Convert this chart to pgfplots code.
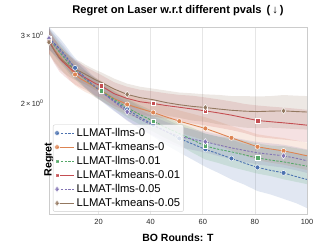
\documentclass[border=0pt]{standalone}
\usepackage{pgfplots}
\pgfplotsset{compat=1.18}
\usepackage{pgfplotstable}
\usepgfplotslibrary{fillbetween}
\usepackage{fontspec}
\setmainfont{Liberation Sans}
\definecolor{cb}{HTML}{4C72B0}
\definecolor{co}{HTML}{DD8452}
\definecolor{cg}{HTML}{55A868}
\definecolor{cr}{HTML}{C44E52}
\definecolor{cp}{HTML}{8172B3}
\definecolor{ck}{HTML}{937860}
\definecolor{gridc}{HTML}{E6E6E6}
\definecolor{framec}{HTML}{CCCCCC}

\pgfplotstableread{
x   b     be   o     oe   g     ge   r     re   p     pe   k     ke
1   2.96  0.20 2.90  0.20 2.95  0.18 2.92  0.22 2.95  0.18 2.885 0.20
3   2.87  0.19 2.76  0.19 2.83  0.17 2.75  0.21 2.85  0.17 2.75  0.19
5   2.78  0.18 2.66  0.18 2.72  0.16 2.62  0.20 2.75  0.16 2.63  0.18
7   2.68  0.17 2.56  0.17 2.62  0.15 2.54  0.19 2.65  0.15 2.56  0.17
9   2.57  0.16 2.46  0.16 2.52  0.14 2.47  0.18 2.55  0.14 2.50  0.16
11  2.475 0.15 2.378 0.15 2.44  0.13 2.41  0.17 2.46  0.13 2.45  0.15
13  2.40  0.14 2.32  0.14 2.37  0.13 2.37  0.17 2.39  0.12 2.42  0.15
15  2.33  0.14 2.28  0.14 2.31  0.12 2.33  0.16 2.32  0.12 2.38  0.14
17  2.26  0.13 2.24  0.13 2.25  0.12 2.29  0.16 2.26  0.11 2.34  0.14
19  2.20  0.13 2.20  0.13 2.20  0.12 2.25  0.16 2.20  0.11 2.30  0.14
21  2.15  0.12 2.16  0.13 2.157 0.12 2.222 0.15 2.145 0.11 2.27  0.14
26  2.03  0.12 2.06  0.12 2.05  0.11 2.12  0.15 2.02  0.10 2.18  0.14
31  1.93  0.12 1.988 0.12 1.95  0.11 2.06  0.15 1.902 0.10 2.111 0.14
36  1.84  0.12 1.94  0.12 1.87  0.11 2.02  0.15 1.82  0.10 2.07  0.14
41  1.76  0.12 1.895 0.12 1.799 0.11 2.00  0.15 1.75  0.10 2.045 0.14
46  1.69  0.13 1.845 0.12 1.73  0.11 1.975 0.15 1.69  0.10 2.01  0.15
51  1.622 0.13 1.799 0.12 1.67  0.11 1.955 0.15 1.64  0.10 1.985 0.15
56  1.57  0.14 1.76  0.12 1.61  0.12 1.935 0.16 1.615 0.10 1.965 0.16
61  1.519 0.15 1.722 0.12 1.55  0.12 1.913 0.16 1.59  0.10 1.952 0.16
66  1.48  0.16 1.675 0.12 1.52  0.12 1.89  0.16 1.56  0.10 1.935 0.17
71  1.439 0.17 1.628 0.12 1.497 0.13 1.865 0.16 1.533 0.10 1.92  0.17
76  1.40  0.17 1.585 0.12 1.47  0.13 1.835 0.16 1.51  0.10 1.91  0.18
81  1.364 0.18 1.543 0.12 1.444 0.13 1.806 0.17 1.488 0.10 1.905 0.18
86  1.34  0.18 1.523 0.12 1.425 0.13 1.793 0.17 1.475 0.10 1.91  0.18
91  1.320 0.19 1.506 0.12 1.41  0.14 1.781 0.17 1.462 0.10 1.913 0.19
96  1.29  0.19 1.482 0.12 1.39  0.14 1.768 0.17 1.44  0.10 1.905 0.19
100 1.269 0.20 1.462 0.12 1.374 0.14 1.756 0.17 1.419 0.10 1.90  0.19
}\data

\newcommand{\band}[3]{%
  \addplot[draw=none, name path=#1U, forget plot] table[x=x, y expr=\thisrow{#1}+\thisrow{#2}] {\data};
  \addplot[draw=none, name path=#1L, forget plot] table[x=x, y expr=\thisrow{#1}-\thisrow{#2}] {\data};
  \addplot[fill=#3, fill opacity=0.17, draw=none, forget plot] fill between[of=#1U and #1L];
}

\begin{document}
\begin{tikzpicture}
\begin{axis}[
  at={(0,0)}, anchor=south west,
  scale only axis, width=258bp, height=187bp,
  xmin=1, xmax=100,
  ymode=log, ymin=1.032, ymax=3.16,
  xtick={20,40,60,80,100},
  ytick={2,3},
  yticklabels={2\,×\,10\textsuperscript{0}, 3\,×\,10\textsuperscript{0}},
  minor ytick={},
  /pgf/number format/assume math mode=true,
  tick style={draw=none},
  major tick length=0pt, minor tick length=0pt,
  ticklabel style={font=\fontsize{7.5}{9}\selectfont, text=black!85},
  xticklabel style={yshift=-2bp},
  yticklabel style={xshift=-2bp},
  xmajorgrids=true, ymajorgrids=false,
  major grid style={draw=gridc, line width=0.6pt},
  axis line style={draw=framec, line width=0.8pt},
  title={\textbf{Regret on Laser w.r.t different pvals\hspace{5bp}(\hspace{2bp}↓\hspace{2bp})}},
  title style={font=\fontsize{11.2}{13}\selectfont, at={(axis description cs:0.5,1)}, anchor=center, yshift=10bp},
  xlabel={\textbf{BO Rounds: T}},
  xlabel style={font=\fontsize{10.5}{12}\selectfont, at={(axis description cs:0.5,0)}, anchor=center, yshift=-23.5bp},
  ylabel={\textbf{Regret}},
  ylabel style={font=\fontsize{10.7}{12}\selectfont, at={(axis description cs:0,0.5)}, anchor=center, xshift=-39bp},
  legend style={at={(0.015,0.012)}, anchor=south west, font=\fontsize{11.3}{13}\selectfont,
    draw=framec, rounded corners=2pt, fill=white, fill opacity=0.8, text opacity=1,
    inner xsep=1.5pt, inner ysep=1.5pt, row sep=0.4pt},
  legend cell align=left,
  every axis plot/.append style={line width=0.9pt},
]
\band{b}{be}{cb}
\band{o}{oe}{co}
\band{g}{ge}{cg}
\band{r}{re}{cr}
\band{p}{pe}{cp}
\band{k}{ke}{ck}

\addplot[cb, dash pattern=on 2.4pt off 1.4pt, mark=*, mark size=2.5pt,
  mark options={solid, draw=white, line width=0.5pt, fill=cb},
  mark indices={1,6,11,13,15,17,19,21,23,25}] table[x=x, y=b] {\data};
\addlegendentry{LLMAT-llms-0}
\addplot[co, solid, mark=*, mark size=2.5pt,
  mark options={solid, draw=white, line width=0.5pt, fill=co},
  mark indices={1,6,11,13,15,17,19,21,23,25}] table[x=x, y=o] {\data};
\addlegendentry{LLMAT-kmeans-0}
\addplot[cg, dash pattern=on 2.4pt off 1.4pt, mark=square*, mark size=2.3pt,
  mark options={solid, draw=white, line width=0.5pt, fill=cg},
  mark indices={1,11,15,19,23}] table[x=x, y=g] {\data};
\addlegendentry{LLMAT-llms-0.01}
\addplot[cr, solid, mark=square*, mark size=2.3pt,
  mark options={solid, draw=white, line width=0.5pt, fill=cr},
  mark indices={1,11,15,19,23}] table[x=x, y=r] {\data};
\addlegendentry{LLMAT-kmeans-0.01}
\addplot[cp, dash pattern=on 2.4pt off 1.4pt, mark=diamond*, mark size=3.2pt,
  mark options={solid, draw=white, line width=0.5pt, fill=cp},
  mark indices={1,13,19,25}] table[x=x, y=p] {\data};
\addlegendentry{LLMAT-llms-0.05}
\addplot[ck, solid, mark=diamond*, mark size=3.2pt,
  mark options={solid, draw=white, line width=0.5pt, fill=ck},
  mark indices={1,13,19,25}] table[x=x, y=k] {\data};
\addlegendentry{LLMAT-kmeans-0.05}
\end{axis}
\pgfresetboundingbox
\path[use as bounding box] (-49bp,-34bp) rectangle (270bp,214bp);
\end{tikzpicture}
\end{document}
